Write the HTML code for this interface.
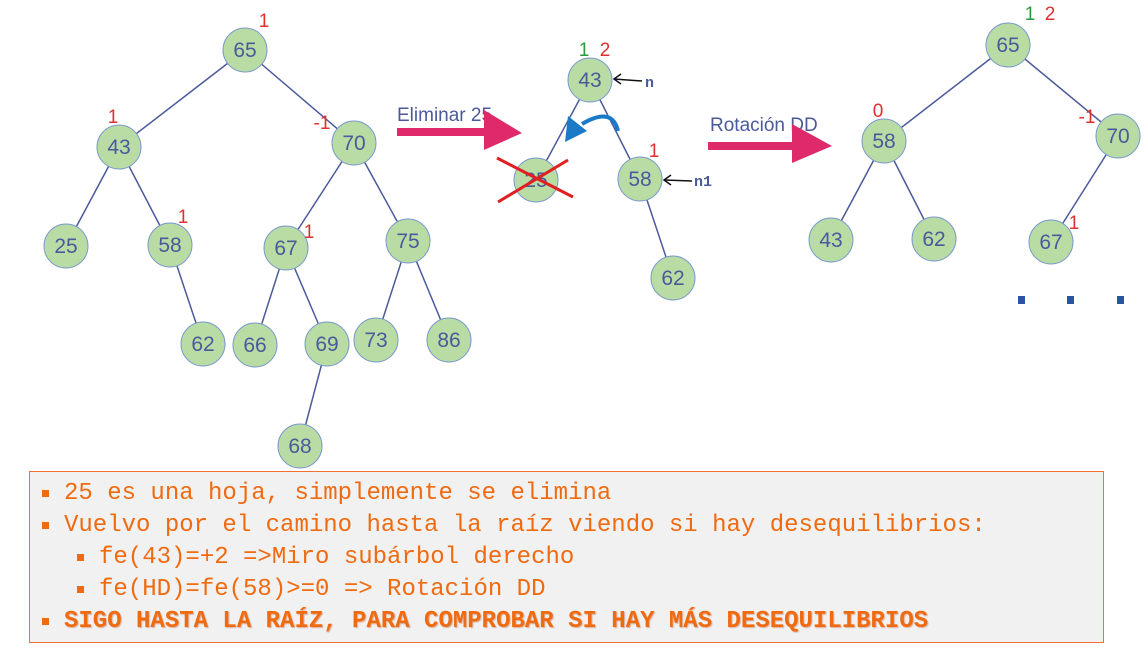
<!DOCTYPE html>
<html><head><meta charset="utf-8"><style>
body{margin:0;width:1147px;height:671px;background:#fff;overflow:hidden;position:relative;font-family:"Liberation Sans",sans-serif}
svg{position:absolute;left:0;top:0}
.box{position:absolute;left:29px;top:471px;width:1075px;height:172px;background:#f1f1f1;border:1.5px solid #f07030;box-sizing:border-box;font-family:"Liberation Mono",monospace;font-size:24px;color:#f06a10}
.l{position:absolute;white-space:pre}
.b{position:absolute;width:7px;height:7px;background:#f06a10}
</style></head><body>
<svg width="1147" height="671" font-family="Liberation Sans, sans-serif">
<g stroke="#4a5a9a" stroke-width="1.5">
<line x1="245" y1="50" x2="119" y2="147"/><line x1="245" y1="50" x2="354" y2="143"/>
<line x1="119" y1="147" x2="66" y2="246"/><line x1="119" y1="147" x2="170" y2="245"/>
<line x1="170" y1="245" x2="203" y2="344"/>
<line x1="354" y1="143" x2="286" y2="248"/><line x1="354" y1="143" x2="408" y2="241"/>
<line x1="286" y1="248" x2="255" y2="345"/><line x1="286" y1="248" x2="327" y2="344"/>
<line x1="327" y1="344" x2="300" y2="446"/>
<line x1="408" y1="241" x2="376" y2="340"/><line x1="408" y1="241" x2="449" y2="340"/>
<line x1="590" y1="80" x2="536" y2="180"/><line x1="590" y1="80" x2="640" y2="179"/>
<line x1="640" y1="179" x2="673" y2="278"/>
<line x1="1008" y1="45" x2="884" y2="141"/><line x1="1008" y1="45" x2="1118" y2="136"/>
<line x1="884" y1="141" x2="831" y2="240"/><line x1="884" y1="141" x2="934" y2="239"/>
<line x1="1118" y1="136" x2="1051" y2="242"/>
</g>
<g fill="#b9dca5" stroke="#7a9acb" stroke-width="1">
<circle cx="245" cy="50" r="22"/><circle cx="119" cy="147" r="22"/><circle cx="354" cy="143" r="22"/>
<circle cx="66" cy="246" r="22"/><circle cx="170" cy="245" r="22"/><circle cx="286" cy="248" r="22"/>
<circle cx="408" cy="241" r="22"/><circle cx="203" cy="344" r="22"/><circle cx="255" cy="345" r="22"/>
<circle cx="327" cy="344" r="22"/><circle cx="376" cy="340" r="22"/><circle cx="449" cy="340" r="22"/>
<circle cx="300" cy="446" r="22"/>
<circle cx="590" cy="80" r="22"/><circle cx="536" cy="180" r="22"/><circle cx="640" cy="179" r="22"/><circle cx="673" cy="278" r="22"/>
<circle cx="1008" cy="45" r="22"/><circle cx="884" cy="141" r="22"/><circle cx="1118" cy="136" r="22"/>
<circle cx="831" cy="240" r="22"/><circle cx="934" cy="239" r="22"/><circle cx="1051" cy="242" r="22"/>
</g>
<g fill="#4a5a9a" font-size="21" text-anchor="middle">
<text x="245" y="57">65</text><text x="119" y="154">43</text><text x="354" y="150">70</text>
<text x="66" y="253">25</text><text x="170" y="252">58</text><text x="286" y="255">67</text>
<text x="408" y="248">75</text><text x="203" y="351">62</text><text x="255" y="352">66</text>
<text x="327" y="351">69</text><text x="376" y="347">73</text><text x="449" y="347">86</text>
<text x="300" y="453">68</text>
<text x="590" y="87">43</text><text x="536" y="187">25</text><text x="640" y="186">58</text><text x="673" y="285">62</text>
<text x="1008" y="52">65</text><text x="884" y="148">58</text><text x="1118" y="143">70</text>
<text x="831" y="247">43</text><text x="934" y="246">62</text><text x="1051" y="249">67</text>
</g>
<g fill="#e03030" font-size="19" text-anchor="middle">
<text x="264" y="27">1</text><text x="113" y="123">1</text><text x="322" y="129">-1</text>
<text x="183" y="223">1</text><text x="309" y="238">1</text>
<text x="605" y="56">2</text><text x="654" y="157">1</text>
<text x="1050" y="20">2</text><text x="878" y="117">0</text><text x="1087" y="123">-1</text><text x="1074" y="229">1</text>
</g>
<g fill="#2a9a40" font-size="19" text-anchor="middle"><text x="584" y="56">1</text><text x="1030" y="20">1</text></g>
<g stroke="#e02020" stroke-width="3"><line x1="497" y1="158" x2="573" y2="197"/><line x1="498" y1="202" x2="568" y2="160"/></g>
<g stroke="#111" stroke-width="1.5" fill="none">
<line x1="614" y1="79" x2="642" y2="81"/><polyline points="621,74 614,79 621,84"/>
<line x1="664" y1="180" x2="692" y2="181"/><polyline points="671,175 664,180 671,185"/>
</g>
<g fill="#4a5a9a" font-family="Liberation Mono, monospace" font-weight="bold" font-size="15"><text x="645" y="87">n</text><text x="694" y="186">n1</text></g>
<path d="M618,131 Q612,106 582,124" stroke="#1a7ac8" stroke-width="4" fill="none"/>
<polygon points="565,142 568,116 587,131" fill="#1a7ac8"/>
<g fill="#4a5a9a" font-size="19"><text x="397" y="121">Eliminar 25</text><text x="710" y="131">Rotación DD</text></g>
<g fill="#de2a6a"><rect x="397" y="128" width="95" height="8"/><polygon points="484,110 522,133 484,150"/>
<rect x="708" y="142" width="90" height="8"/><polygon points="792,124 832,146 792,163"/></g>
<g fill="#2a55a0"><rect x="1018" y="296" width="7" height="8"/><rect x="1067" y="296" width="7" height="8"/><rect x="1117" y="296" width="7" height="8"/></g>
</svg>
<div class="box">
<div class="b" style="left:12px;top:18px"></div><div class="l" style="left:34px;top:8px">25 es una hoja, simplemente se elimina</div>
<div class="b" style="left:12px;top:50px"></div><div class="l" style="left:34px;top:40px">Vuelvo por el camino hasta la raíz viendo si hay desequilibrios:</div>
<div class="b" style="left:47px;top:82px"></div><div class="l" style="left:69px;top:72px">fe(43)=+2 =&gt;Miro subárbol derecho</div>
<div class="b" style="left:47px;top:114px"></div><div class="l" style="left:69px;top:104px">fe(HD)=fe(58)&gt;=0 =&gt; Rotación DD</div>
<div class="b" style="left:12px;top:146px"></div><div class="l" style="left:34px;top:136px;font-weight:bold;text-shadow:1px 1px 1px #d8b0a0">SIGO HASTA LA RAÍZ, PARA COMPROBAR SI HAY MÁS DESEQUILIBRIOS</div>
</div>
</body></html>
